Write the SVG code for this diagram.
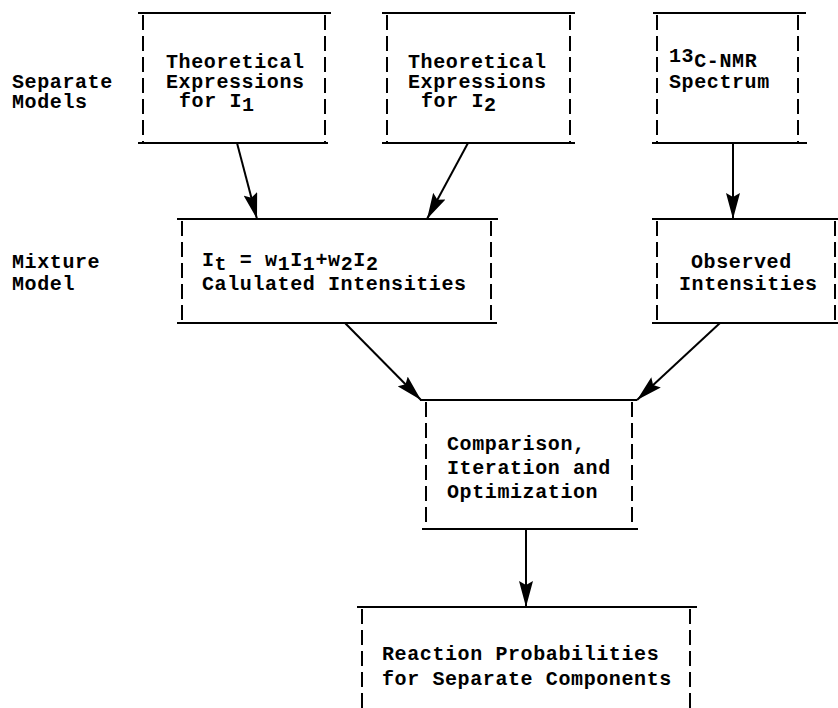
<svg xmlns="http://www.w3.org/2000/svg" width="838" height="708" viewBox="0 0 838 708">
  <style>
    .rule { stroke: #000; stroke-width: 2.2; fill: none; }
    .side { stroke: #000; stroke-width: 2; fill: none; stroke-dasharray: 15 6; }
    .txt { font-family: "Liberation Mono", "DejaVu Sans Mono", monospace; font-weight: bold; font-size: 20px; letter-spacing: 0.6px; fill: #000; }
    .conn { stroke: #000; stroke-width: 2; fill: none; marker-end: url(#arrow); }
  </style>
  <defs>
    <marker id="arrow" markerUnits="userSpaceOnUse" viewBox="0 0 26 14" refX="26" refY="7" markerWidth="26" markerHeight="14" orient="auto">
      <path d="M0,0 L26,7 L0,14 L4,7 z" fill="#000"/>
    </marker>
  </defs>

  <rect width="838" height="708" fill="#fff"/>

  <!-- row labels -->
  <g id="label-separate">
    <text class="txt" x="12" y="88">Separate</text>
    <text class="txt" x="12" y="108">Models</text>
  </g>
  <g id="label-mixture">
    <text class="txt" x="12" y="268">Mixture</text>
    <text class="txt" x="12" y="290">Model</text>
  </g>

  <!-- Theoretical expressions for I1 -->
  <g id="node-theory1">
    <line class="rule" x1="138" y1="13" x2="331" y2="13"/>
    <line class="rule" x1="138" y1="143" x2="328" y2="143"/>
    <line class="side" x1="143" y1="15" x2="143" y2="143"/>
    <line class="side" x1="325" y1="15" x2="325" y2="143"/>
    <text class="txt" x="166" y="68">Theoretical</text>
    <text class="txt" x="166" y="88">Expressions</text>
    <text class="txt" x="179" y="107">for I<tspan dy="4">1</tspan></text>
  </g>

  <!-- Theoretical expressions for I2 -->
  <g id="node-theory2">
    <line class="rule" x1="382" y1="13" x2="575" y2="13"/>
    <line class="rule" x1="382" y1="143" x2="575" y2="143"/>
    <line class="side" x1="387" y1="15" x2="387" y2="143"/>
    <line class="side" x1="570" y1="15" x2="570" y2="143"/>
    <text class="txt" x="408" y="68">Theoretical</text>
    <text class="txt" x="408" y="88">Expressions</text>
    <text class="txt" x="421" y="107">for I<tspan dy="4">2</tspan></text>
  </g>

  <!-- 13C-NMR spectrum -->
  <g id="node-nmr">
    <line class="rule" x1="653" y1="13" x2="806" y2="13"/>
    <line class="rule" x1="652" y1="143" x2="807" y2="143"/>
    <line class="side" x1="657" y1="15" x2="657" y2="143"/>
    <line class="side" x1="798" y1="15" x2="798" y2="143"/>
    <text class="txt" x="669" y="62">13<tspan dy="5">C-NMR</tspan></text>
    <text class="txt" x="669" y="88">Spectrum</text>
  </g>

  <!-- Mixture model -->
  <g id="node-mixture">
    <line class="rule" x1="177" y1="219" x2="498" y2="219"/>
    <line class="rule" x1="177" y1="323" x2="497" y2="323"/>
    <line class="side" x1="182" y1="221" x2="182" y2="323"/>
    <line class="side" x1="491" y1="221" x2="491" y2="323"/>
    <text class="txt" x="202" y="266" xml:space="preserve">I<tspan dy="4">t</tspan><tspan dy="-4"> = w</tspan><tspan dy="4">1</tspan><tspan dy="-4">I</tspan><tspan dy="4">1</tspan><tspan dy="-4">+w</tspan><tspan dy="4">2</tspan><tspan dy="-4">I</tspan><tspan dy="4">2</tspan></text>
    <text class="txt" x="202" y="290">Calulated Intensities</text>
  </g>

  <!-- Observed intensities -->
  <g id="node-observed">
    <line class="rule" x1="652" y1="219" x2="838" y2="219"/>
    <line class="rule" x1="652" y1="323" x2="838" y2="323"/>
    <line class="side" x1="657" y1="221" x2="657" y2="323"/>
    <line class="side" x1="835" y1="221" x2="835" y2="323"/>
    <text class="txt" x="691" y="268">Observed</text>
    <text class="txt" x="679" y="290">Intensities</text>
  </g>

  <!-- Comparison, iteration and optimization -->
  <g id="node-compare">
    <line class="rule" x1="420" y1="400" x2="637" y2="400"/>
    <line class="rule" x1="422" y1="529" x2="638" y2="529"/>
    <line class="side" x1="426" y1="402" x2="426" y2="529"/>
    <line class="side" x1="632" y1="402" x2="632" y2="529"/>
    <text class="txt" x="447" y="450">Comparison,</text>
    <text class="txt" x="447" y="474">Iteration and</text>
    <text class="txt" x="447" y="498">Optimization</text>
  </g>

  <!-- Reaction probabilities -->
  <g id="node-result">
    <line class="rule" x1="357" y1="607" x2="697" y2="607"/>
    <line class="side" x1="362" y1="609" x2="362" y2="708"/>
    <line class="side" x1="690" y1="609" x2="690" y2="708"/>
    <text class="txt" x="382" y="660">Reaction Probabilities</text>
    <text class="txt" x="382" y="685">for Separate Components</text>
  </g>

  <!-- connectors -->
  <g id="connectors">
    <line class="conn" x1="237" y1="143" x2="257" y2="219"/>
    <line class="conn" x1="468" y1="143" x2="427" y2="219"/>
    <line class="conn" x1="733" y1="143" x2="733" y2="219"/>
    <line class="conn" x1="345" y1="323" x2="421" y2="400"/>
    <line class="conn" x1="720" y1="323" x2="637" y2="400"/>
    <line class="conn" x1="526" y1="529" x2="526" y2="607"/>
  </g>
</svg>
